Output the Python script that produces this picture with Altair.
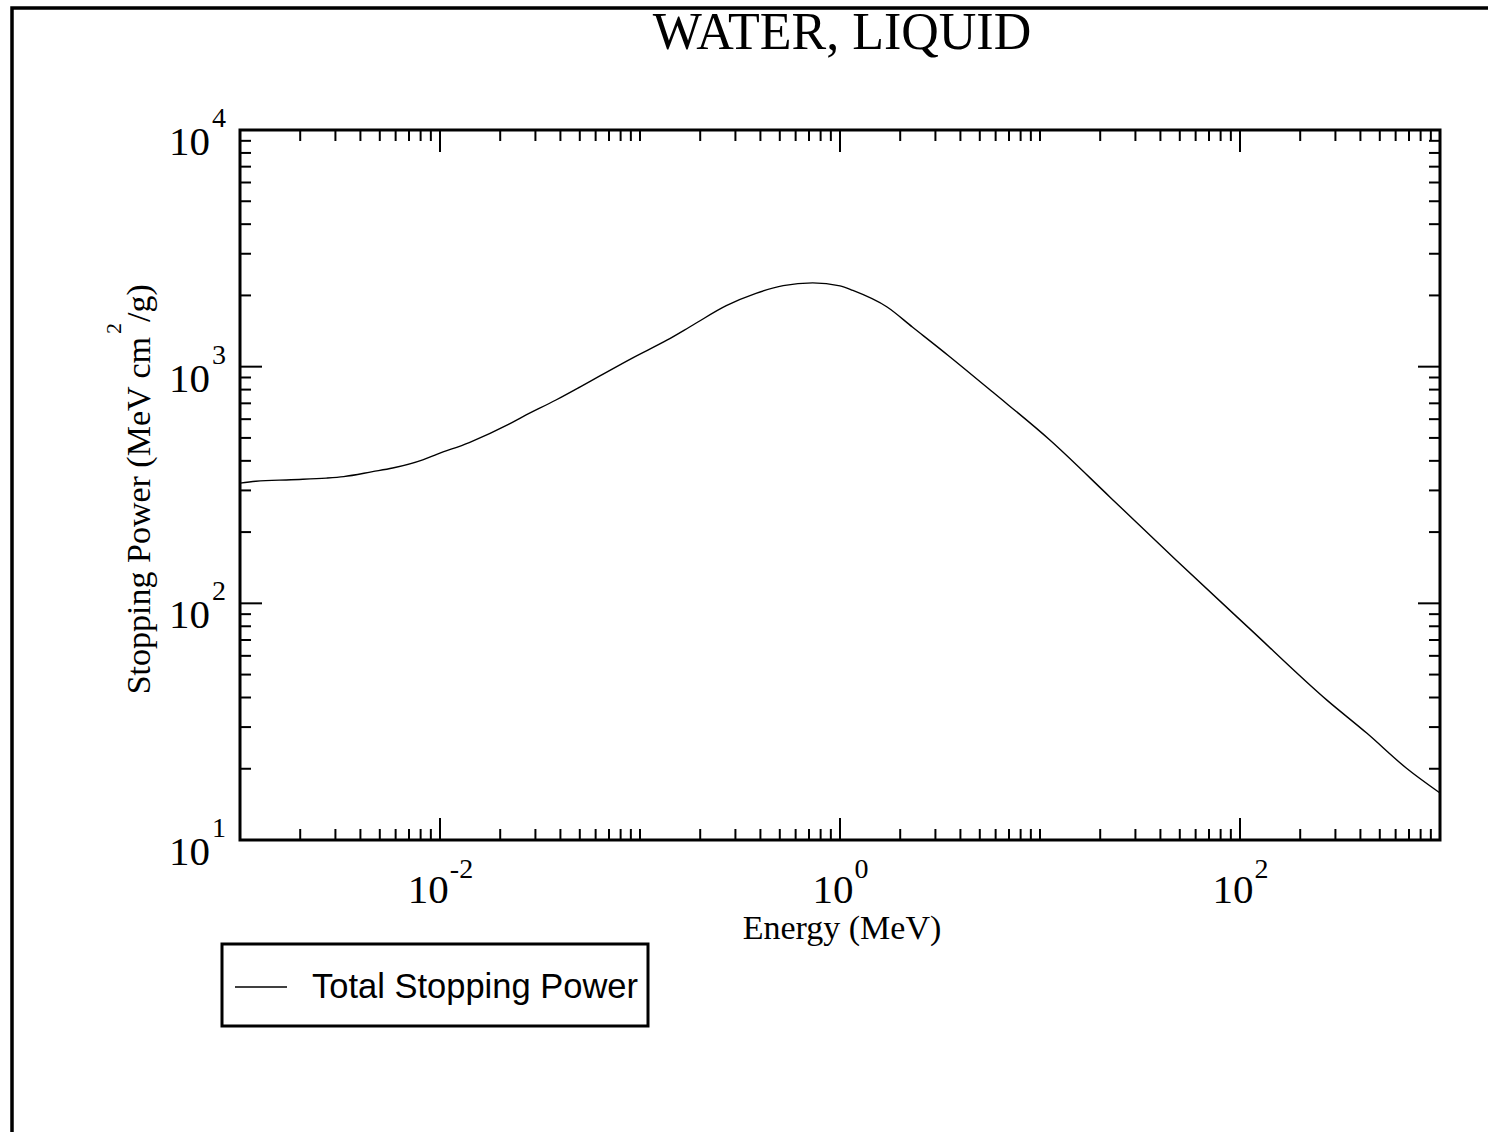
import altair as alt
import pandas as pd

# ---- data (Energy in MeV, Stopping power in MeV cm2/g)
energy = [0.001, 0.0012, 0.0018, 0.0027, 0.0033, 0.0046, 0.0058, 0.0082, 0.0097, 0.014,
          0.022, 0.026, 0.038, 0.05, 0.063, 0.092, 0.137, 0.184, 0.27, 0.38,
          0.52, 0.73, 1.0, 1.16, 1.72, 2.3, 3.5, 5.8, 11.2, 22.4,
          48, 112, 272, 430, 680, 1000]
stopping = [322, 328, 333, 338, 343, 360, 373, 404, 427, 478,
            570, 615, 723, 820, 914, 1090, 1297, 1500, 1810, 2040,
            2200, 2260, 2195, 2100, 1787, 1471, 1110, 781, 490, 281,
            152, 78, 39.0, 28.3, 20.1, 15.8]

title_text = "WATER, LIQUID"
x_title = "Energy (MeV)"
y_title_parts = ["Stopping Power (MeV cm", "2", "/g)"]
legend_label = "Total Stopping Power"

x_major = [0.01, 1, 100]
x_major_exp = ["-2", "0", "2"]
x_minor = [k * 10.0 ** n for n in range(-3, 3) for k in range(1, 10)
           if not (k == 1 and n in (-2, 0, 2)) and not (k == 1 and n == -3)]
y_major = [10, 100, 1000, 10000]
y_major_exp = ["1", "2", "3", "4"]
y_minor = [k * 10.0 ** n for n in range(1, 4) for k in range(2, 10)]

W, H = 1200, 710
SERIF = "Liberation Serif"
SANS = "Liberation Sans"

xs = alt.Scale(type="log", domain=[0.001, 1000], nice=False)
ys = alt.Scale(type="log", domain=[10, 10000], nice=False)

def X(): return alt.X("E:Q", scale=xs, axis=None)
def Y(): return alt.Y("S:Q", scale=ys, axis=None)

curve_df = pd.DataFrame({"E": energy, "S": stopping})
curve = alt.Chart(curve_df).mark_line(color="black", strokeWidth=1.4,
                                      interpolate="monotone").encode(x=X(), y=Y())

MAJ, MIN = 22, 11
xmaj_df = pd.DataFrame({"E": x_major})
xmin_df = pd.DataFrame({"E": x_minor})
ymaj_df = pd.DataFrame({"S": y_major})
ymin_df = pd.DataFrame({"S": y_minor})

layers = [curve]
for df, ln in ((xmaj_df, MAJ), (xmin_df, MIN)):
    layers.append(alt.Chart(df).mark_rule(color="black", strokeWidth=2).encode(
        x=X(), y=alt.value(H), y2=alt.value(H - ln)))
    layers.append(alt.Chart(df).mark_rule(color="black", strokeWidth=2).encode(
        x=X(), y=alt.value(0), y2=alt.value(ln)))
for df, ln in ((ymaj_df, MAJ), (ymin_df, MIN)):
    layers.append(alt.Chart(df).mark_rule(color="black", strokeWidth=2).encode(
        y=Y(), x=alt.value(0), x2=alt.value(ln)))
    layers.append(alt.Chart(df).mark_rule(color="black", strokeWidth=2).encode(
        y=Y(), x=alt.value(W), x2=alt.value(W - ln)))

# x tick labels: "10" + superscript exponent, centred as a whole
BASE_FS, EXP_FS = 41, 28
def exp_width(s):
    return sum(0.333 if c == "-" else 0.5 for c in s) * EXP_FS
for v, e in zip(x_major, x_major_exp):
    d = pd.DataFrame({"E": [v], "b": ["10"], "e": [e]})
    shift = (BASE_FS - exp_width(e)) / 2.0
    layers.append(alt.Chart(d).mark_text(font=SERIF, fontSize=BASE_FS, align="right",
                                         baseline="alphabetic", dx=shift, color="black").encode(
        x=X(), y=alt.value(773), text="b:N"))
    layers.append(alt.Chart(d).mark_text(font=SERIF, fontSize=EXP_FS, align="left",
                                         baseline="alphabetic", dx=shift + 1, color="black").encode(
        x=X(), y=alt.value(748), text="e:N"))

ylab_df = pd.DataFrame({"S": y_major, "b": ["10"] * len(y_major), "e": y_major_exp})
layers.append(alt.Chart(ylab_df).mark_text(font=SERIF, fontSize=BASE_FS, align="right",
                                           baseline="alphabetic", dy=25, color="black").encode(
    y=Y(), x=alt.value(-30), text="b:N"))
layers.append(alt.Chart(ylab_df).mark_text(font=SERIF, fontSize=EXP_FS, align="left",
                                           baseline="alphabetic", dy=-3, color="black").encode(
    y=Y(), x=alt.value(-28), text="e:N"))

one = pd.DataFrame({"t": [title_text], "xt": [x_title], "y1": [y_title_parts[0]],
                    "y2": [y_title_parts[1]], "y3": [y_title_parts[2]], "lg": [legend_label]})

# title
layers.append(alt.Chart(one).mark_text(font=SERIF, fontSize=52, align="center",
                                       baseline="alphabetic", color="black").encode(
    x=alt.value(W / 2 + 2), y=alt.value(-81), text="t:N"))
# x title
layers.append(alt.Chart(one).mark_text(font=SERIF, fontSize=34, align="center",
                                       baseline="alphabetic", color="black").encode(
    x=alt.value(W / 2 + 2), y=alt.value(809), text="xt:N"))
# y title (rotated, with superscript)
layers.append(alt.Chart(one).mark_text(font=SERIF, fontSize=34, align="right", angle=270,
                                       baseline="alphabetic", color="black").encode(
    x=alt.value(-90), y=alt.value(207), text="y1:N"))
layers.append(alt.Chart(one).mark_text(font=SERIF, fontSize=22, align="left", angle=270,
                                       baseline="alphabetic", color="black").encode(
    x=alt.value(-119), y=alt.value(204), text="y2:N"))
layers.append(alt.Chart(one).mark_text(font=SERIF, fontSize=34, align="left", angle=270,
                                       baseline="alphabetic", color="black").encode(
    x=alt.value(-90), y=alt.value(192), text="y3:N"))

# legend box
layers.append(alt.Chart(one).mark_rect(fillOpacity=0, stroke="black", strokeWidth=3).encode(
    x=alt.value(-18), x2=alt.value(408), y=alt.value(814), y2=alt.value(896)))
layers.append(alt.Chart(one).mark_rule(color="black", strokeWidth=1.4).encode(
    x=alt.value(-5), x2=alt.value(47), y=alt.value(857)))
layers.append(alt.Chart(one).mark_text(font=SANS, fontSize=34.5, align="left",
                                       baseline="alphabetic", color="black").encode(
    x=alt.value(72), y=alt.value(868), text="lg:N"))

# outer page frame
layers.append(alt.Chart(one).mark_rect(fillOpacity=0, stroke="black", strokeWidth=3.5).encode(
    x=alt.value(-228), x2=alt.value(1270), y=alt.value(-122), y2=alt.value(1020)))

chart = alt.layer(*layers).properties(
    width=W, height=H,
    padding={"left": 240, "top": 130, "right": 48, "bottom": 292},
    autosize=alt.AutoSizeParams(type="none"),
    background="white",
).configure_view(stroke="black", strokeWidth=3)

chart.save("out.html", embed_options={"renderer": "svg", "actions": False})
